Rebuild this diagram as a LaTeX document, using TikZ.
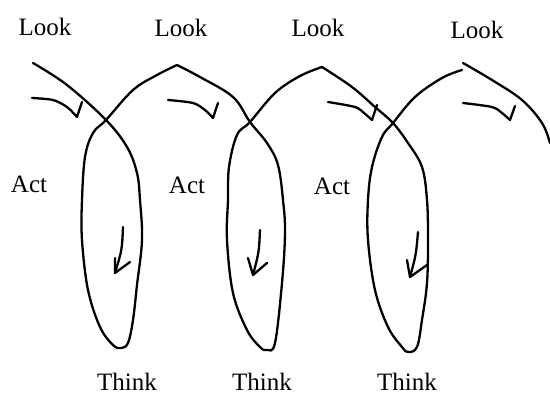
\documentclass[tikz,border=0pt]{standalone}
\usepackage{fontspec}
\setmainfont{Liberation Serif}
\begin{document}
\begin{tikzpicture}[x=1pt,y=-1pt,
  stroke/.style={line width=2.3pt,line cap=round,line join=round},
  lbl/.style={font=\fontsize{25}{28}\selectfont,inner sep=0pt}]
\useasboundingbox (0,0) rectangle (550,397);
% labels
\node[lbl] (look1) at (45,27) {Look};
\node[lbl] (look2) at (181,28) {Look};
\node[lbl] (look3) at (318,28) {Look};
\node[lbl] (look4) at (477,30) {Look};
\node[lbl] (act1) at (29,184) {Act};
\node[lbl] (act2) at (187,185) {Act};
\node[lbl] (act3) at (332,186) {Act};
\node[lbl] (think1) at (127,382) {Think};
\node[lbl] (think2) at (262,382) {Think};
\node[lbl] (think3) at (407,382) {Think};
% spiral
\draw[stroke] plot[smooth,tension=0.6] coordinates {(33,63) (67,85) (106,120) (127,147) (137,173) (140,200) (142,240) (137,285) (133,320) (128,343) (121,348) (113,345) (100,327) (88,290) (82,240) (82,200) (85,157) (93,133) (106,120) (133,90) (157,75) (177,65)}
  plot[smooth,tension=0.6] coordinates {(177,65) (200,77) (233,97) (250,122) (267,143) (278,165) (283,200) (285,233) (282,283) (275,343) (267,350) (260,347) (247,330) (233,293) (227,240) (228,200) (229,167) (237,135) (250,122) (275,93) (300,76) (322,67)}
  plot[smooth,tension=0.6] coordinates {(322,67) (352,87) (375,107) (393,123) (408,143) (422,167) (427,200) (428,240) (427,283) (422,320) (417,347) (408,352) (402,347) (388,327) (375,290) (368,240) (368,200) (372,167) (382,137) (393,123) (415,97) (442,78) (462,70)};
\draw[stroke] plot[smooth,tension=0.6] coordinates {(463,63) (492,80) (522,100) (542,123) (550,143)};
% ticks
\draw[stroke] plot[smooth] coordinates {(32,98) (53,100) (67,107) (77,117)} -- (82,102);
\draw[stroke] plot[smooth] coordinates {(168,100) (193,103) (205,110) (213,118)} -- (218,103);
\draw[stroke] plot[smooth] coordinates {(328,102) (355,107) (364,113) (372,120)} -- (377,105);
\draw[stroke] plot[smooth] coordinates {(463,103) (492,107) (502,113) (510,120)} -- (515,106);
% down arrows
\draw[stroke] (123,227) .. controls (122,250) .. (115,273);
\draw[stroke] (115,258) -- (115,273) -- (130,262);
\draw[stroke] (260,230) .. controls (259,252) .. (253,275);
\draw[stroke] (248,258) -- (253,275) -- (267,263);
\draw[stroke] (418,232) .. controls (416,255) .. (410,277);
\draw[stroke] (407,260) -- (410,277) -- (427,265);
\end{tikzpicture}
\end{document}
